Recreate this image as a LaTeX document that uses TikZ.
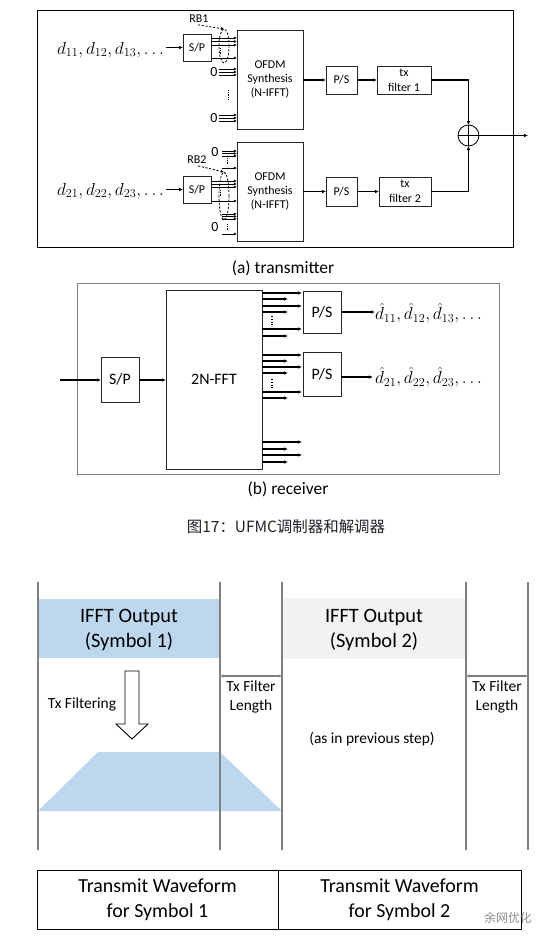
\RequirePackage{fix-cm}
\documentclass[tikz,border=0pt]{standalone}
\usepackage{fontspec}
\setmainfont{Carlito}
\newfontfamily\cjk{Noto Sans CJK SC}
\usetikzlibrary{arrows.meta,shapes.geometric,calc}
\definecolor{lblue}{HTML}{BDD7EE}
\definecolor{lgray}{HTML}{F2F2F2}
\definecolor{vgray}{HTML}{808080}
\definecolor{capc}{HTML}{202028}
\begin{document}
\begin{tikzpicture}[x=1bp,y=-1bp,
  every node/.style={inner sep=0pt, outer sep=0pt},
  blockbox/.style={draw=black!85, line width=0.8bp, fill=white, align=center},
  ar/.style={-{Latex[length=4bp,width=3.6bp]}, line width=1.1bp},
  sar/.style={-{Latex[length=3.2bp,width=3bp]}, line width=0.9bp},
  dotv/.style={line width=0.7bp, dash pattern=on 0.7bp off 1.1bp},
  bdots/.style={line width=1.6bp, dash pattern=on 1.4bp off 1.4bp},
  dsh/.style={line width=0.8bp, dash pattern=on 2.2bp off 1.6bp},
  txt/.style={font=\fontsize{12}{14}\selectfont, align=center},
  rxt/.style={font=\fontsize{16}{19}\selectfont},
  mth/.style={font=\fontsize{17.5}{20}\selectfont},
  zerotxt/.style={font=\fontsize{14}{14}\selectfont},
  captxt/.style={font=\fontsize{17.5}{20}\selectfont},
  vline/.style={draw=vgray, line width=1.6bp},
  dimarr/.style={{Latex[length=3.5bp,width=3.5bp]}-{Latex[length=3.5bp,width=3.5bp]}, draw=vgray, line width=1.2bp},
  btxt/.style={font=\fontsize{15.5}{19}\selectfont, align=center},
  bigtxt/.style={font=\fontsize{20.5}{26}\selectfont, align=center},
  twbox/.style={draw, line width=0.9bp, font=\fontsize{20}{25}\selectfont, align=center}
]
\useasboundingbox (0,0) rectangle (560,946);

% ================= transmitter =================
\node[draw, line width=0.8bp, minimum width=476bp, minimum height=237bp] (txframe) at (275,128.5) {};

% --- branch 1
\node[mth, anchor=east, outer sep=2bp] (d1) at (166,50) {$d_{11}, d_{12}, d_{13}, \ldots$};
\node[blockbox, txt, minimum width=28bp, minimum height=27bp] (sp1) at (197,47.5) {S/P};
\node[blockbox, txt, minimum width=66bp, minimum height=99bp] (of1) at (270,79.5) {OFDM\\Synthesis\\(N-IFFT)};
\draw[ar] (d1.east |- sp1.west) -- (sp1.west);
\foreach \y in {38,41.5,45,58}{
  \draw[sar] (sp1.east |- 0,\y) -- (of1.west |- 0,\y);
}
\draw[dotv] (220,48) -- (220,55);
\node[draw, dsh, ellipse, minimum width=10bp, minimum height=34bp] (e1) at (224,46) {};
\node[txt] (rb1) at (199,19) {RB1};
\draw[dsh, -{Latex[length=3bp,width=3bp]}] ([xshift=-1bp,yshift=-2bp]rb1.south) -- (e1.north);
\node[zerotxt] (z11) at (214,72) {0};
\node[zerotxt] (z12) at (214,118) {0};
\foreach \y in {69,72,75}{
  \draw[sar] (219,\y) -- (of1.west |- 0,\y);
}
\foreach \y in {115,118,121}{
  \draw[sar] (219,\y) -- (of1.west |- 0,\y);
}
\draw[dotv] (228,90) -- (228,100);

\node[blockbox, txt, minimum width=31bp, minimum height=28bp] (ps1) at (341.5,80) {P/S};
\node[blockbox, font=\fontsize{12}{15}\selectfont, align=center, minimum width=54bp, minimum height=28bp] (f1) at (404,80) {tx\\filter 1};
\draw[ar] (of1.east |- ps1.west) -- (ps1.west);
\draw[ar] (ps1.east) -- (f1.west);

% --- branch 2
\node[mth, anchor=east, outer sep=2bp] (d2) at (166,191) {$d_{21}, d_{22}, d_{23}, \ldots$};
\node[blockbox, txt, minimum width=28bp, minimum height=27bp] (sp2) at (197,189.5) {S/P};
\node[blockbox, txt, minimum width=66bp, minimum height=99bp] (of2) at (270,191.5) {OFDM\\Synthesis\\(N-IFFT)};
\draw[ar] (d2.east |- sp2.west) -- (sp2.west);
\foreach \y in {181,184,187,201}{
  \draw[sar] (sp2.east |- 0,\y) -- (of2.west |- 0,\y);
}
\draw[dotv] (220,190) -- (220,197);
\node[draw, dsh, ellipse, minimum width=10bp, minimum height=48bp] (e2) at (224,196) {};
\node[txt] (rb2) at (197,160) {RB2};
\draw[dsh, -{Latex[length=3bp,width=3bp]}] ([xshift=1bp,yshift=-2bp]rb2.south) -- (e2.north);
\node[zerotxt] (z21) at (215,152) {0};
\node[zerotxt] (z22) at (215,227) {0};
\foreach \y in {151,153.5,156,168,214,216.5,219,234}{
  \draw[sar] (222,\y) -- (of2.west |- 0,\y);
}
\draw[dotv] (227,158) -- (227,165);
\draw[dotv] (227,224) -- (227,231);

\node[blockbox, txt, minimum width=31bp, minimum height=29bp] (ps2) at (341.5,191.5) {P/S};
\node[blockbox, font=\fontsize{12}{15}\selectfont, align=center, minimum width=52bp, minimum height=29bp] (f2) at (405,191.5) {tx\\filter 2};
\draw[ar] (of2.east |- ps2.west) -- (ps2.west);
\draw[ar] (ps2.east) -- (f2.west);

% --- summation
\node[draw, circle, line width=0.8bp, minimum size=21bp] (sum) at (468.5,135.5) {};
\draw[line width=0.8bp] (sum.north) -- (sum.south) (sum.west) -- (sum.east);
\draw[ar] (f1.east) -| (sum.north);
\draw[ar] (f2.east) -| (sum.south);
\coordinate (txout) at (528,135.5);
\draw[ar] (sum.east) -- (txout);

\node[captxt] (capa) at (283,268) {(a) transmitter};

% ================= receiver =================
\node[draw=vgray, line width=1bp, minimum width=421bp, minimum height=191bp] (rxframe) at (288.5,378.5) {};
\node[blockbox, rxt, minimum width=38bp, minimum height=45bp] (rsp) at (120,379.5) {S/P};
\node[blockbox, rxt, minimum width=96bp, minimum height=179bp] (fft) at (214,379.5) {2N-FFT};
\node[blockbox, rxt, minimum width=38bp, minimum height=42bp] (rps1) at (322,312) {P/S};
\node[blockbox, rxt, minimum width=38bp, minimum height=44bp] (rps2) at (322,374) {P/S};
\coordinate (rxin) at (60,380);
\draw[ar] (rxin) -- (rsp.west |- rxin);
\draw[ar] (rsp.east |- rxin) -- (fft.west |- rxin);
\foreach \y in {293,306,329,355,367,392,442,455}{
  \draw[ar] (fft.east |- 0,\y) -- (302,\y);
}
\foreach \y in {299,312,336,361,373,398,449,462}{
  \draw[ar] (fft.east |- 0,\y) -- (288,\y);
}
\draw[bdots] (272,316) -- (272,325);
\draw[bdots] (272,379) -- (272,388);
\node[mth, anchor=west] (dh1) at (375,313) {$\hat{d}_{11}, \hat{d}_{12}, \hat{d}_{13}, \ldots$};
\node[mth, anchor=west] (dh2) at (375,377) {$\hat{d}_{21}, \hat{d}_{22}, \hat{d}_{23}, \ldots$};
\draw[ar] (rps1.east) -- (dh1.west |- rps1.east);
\draw[ar] (rps2.east |- dh2.west) -- ([xshift=-2bp]dh2.west);

\node[captxt] (capb) at (288,489) {(b) receiver};

% ================= figure caption =================
\node[font=\cjk\fontsize{15.5}{18}\selectfont, text=capc] (fig) at (286,527) {图17：UFMC调制器和解调器};

% ================= bottom diagram =================
\fill[lblue] (38,599) rectangle (220,658);
\fill[lgray] (282,598) rectangle (466,659);
\fill[lblue] (38,811) -- (98,752) -- (220,752) -- (282,811) -- cycle;
\node[bigtxt] (ifft1) at (129,630) {IFFT Output\\(Symbol 1)};
\node[bigtxt] (ifft2) at (374,630) {IFFT Output\\(Symbol 2)};
\foreach \x in {38,220,282,466,528}{
  \draw[vline] (\x,582) -- (\x,850);
}
\coordinate (da1) at (220,676);
\coordinate (db1) at (282,676);
\coordinate (da2) at (466,676);
\coordinate (db2) at (528,676);
\draw[dimarr] (da1) -- (db1);
\draw[dimarr] (da2) -- (db2);
\node[btxt] (tfl1) at (251,697) {Tx Filter\\Length};
\node[btxt] (tfl2) at (497,697) {Tx Filter\\Length};
\node[btxt] (txf) at (82,704) {Tx Filtering};
\draw[line width=0.9bp, fill=white] (125,671) -- (139,671) -- (139,724) -- (148,724) -- (132,739) -- (116,724) -- (125,724) -- cycle;
\node[btxt] (prev) at (372,739) {(as in previous step)};

\node[twbox, minimum width=241bp, minimum height=59bp] (tw1) at (157.5,899.5) {Transmit Waveform\\for Symbol 1};
\node[twbox, minimum width=243bp, minimum height=59bp] (tw2) at (399.5,899.5) {Transmit Waveform\\for Symbol 2};
\node[font=\cjk\fontsize{12}{12}\selectfont, text=black!45] (wm) at (508,918) {余网优化};
\end{tikzpicture}
\end{document}
